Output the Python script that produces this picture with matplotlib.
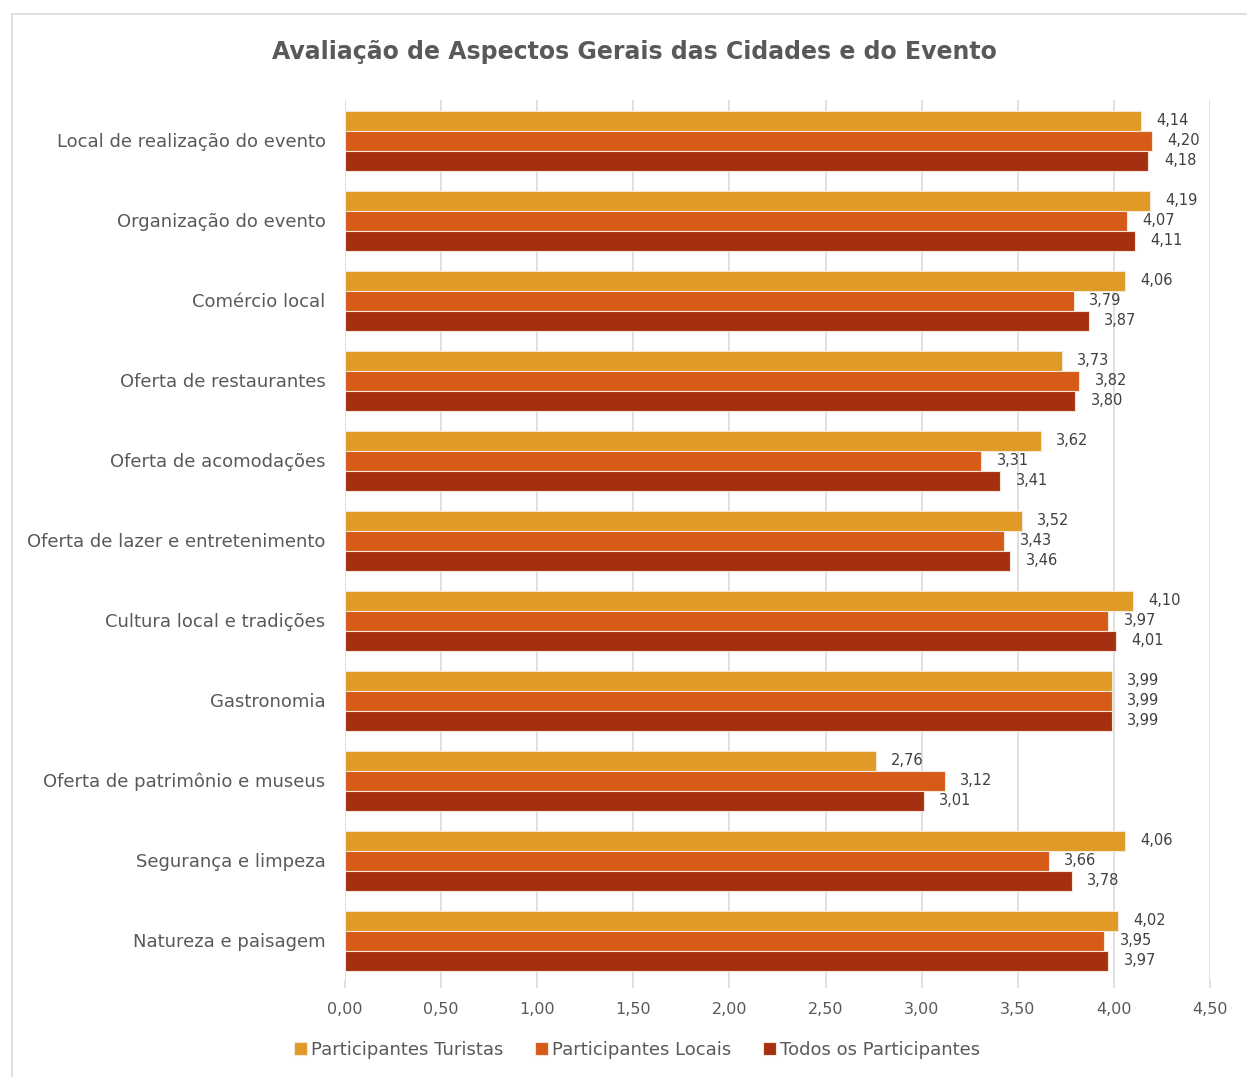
import numpy as np
import matplotlib.pyplot as plt
from matplotlib.patches import Rectangle

categories = ['Local de realização do evento', 'Organização do evento', 'Comércio local',
              'Oferta de restaurantes', 'Oferta de acomodações', 'Oferta de lazer e entretenimento',
              'Cultura local e tradições', 'Gastronomia', 'Oferta de patrimônio e museus',
              'Segurança e limpeza', 'Natureza e paisagem']
turistas = [4.14, 4.19, 4.06, 3.73, 3.62, 3.52, 4.10, 3.99, 2.76, 4.06, 4.02]
locais = [4.20, 4.07, 3.79, 3.82, 3.31, 3.43, 3.97, 3.99, 3.12, 3.66, 3.95]
todos = [4.18, 4.11, 3.87, 3.80, 3.41, 3.46, 4.01, 3.99, 3.01, 3.78, 3.97]
series_names = ['Participantes Turistas', 'Participantes Locais', 'Todos os Participantes']
colors = ['#E09A26', '#D65A18', '#A53010']
xticks = np.arange(0, 4.51, 0.5)

plt.rcParams['font.family'] = ['DejaVu Sans']
txt = '#595959'

fig = plt.figure(figsize=(12.47, 10.77), dpi=100)
fig.patches.append(Rectangle((12 / 1247, -0.1), 1.0, 1.1 - 14 / 1077, transform=fig.transFigure,
                             fill=False, edgecolor='#D9D9D9', linewidth=1.2))
ax = fig.add_axes([345 / 1247, 1 - 980 / 1077, 865 / 1247, 880 / 1077])

y = np.arange(len(categories))
h = 0.25
for i, (vals, name, c) in enumerate(zip([turistas, locais, todos], series_names, colors)):
    pos = y - h + i * h + 0.01
    ax.barh(pos, vals, height=h, color=c, edgecolor='#F5E6D8', linewidth=0.8, label=name, zorder=3)
    for p, v in zip(pos, vals):
        ax.text(v + 0.08, p, f'{v:.2f}'.replace('.', ','), va='center', ha='left',
                fontsize=10.5, color='#404040')

ax.set_ylim(len(categories) - 0.5, -0.5)
ax.set_xlim(0, 4.5)
ax.set_xticks(xticks)
ax.set_xticklabels([f'{t:.2f}'.replace('.', ',') for t in xticks], fontsize=11.5, color=txt)
ax.set_yticks(y)
ax.set_yticklabels(categories, fontsize=13, color=txt)
ax.tick_params(axis='y', length=0, pad=14)
ax.tick_params(axis='x', length=6, width=1.2, color='#D9D9D9', pad=10)
ax.grid(axis='x', color='#D9D9D9', linewidth=1.2, zorder=0)
for s in ax.spines.values():
    s.set_visible(False)

fig.text(634 / 1247, 1 - 52 / 1077, 'Avaliação de Aspectos Gerais das Cidades e do Evento',
         ha='center', va='center', fontsize=17, fontweight='bold', color=txt)

fig.legend(loc='center', bbox_to_anchor=(637 / 1247, 1 - 1050 / 1077), ncol=3, frameon=False,
           fontsize=13, handlelength=0.7, handleheight=0.7, handletextpad=0.2,
           columnspacing=1.8, labelcolor=txt)

fig.savefig('out.png', dpi=100)
